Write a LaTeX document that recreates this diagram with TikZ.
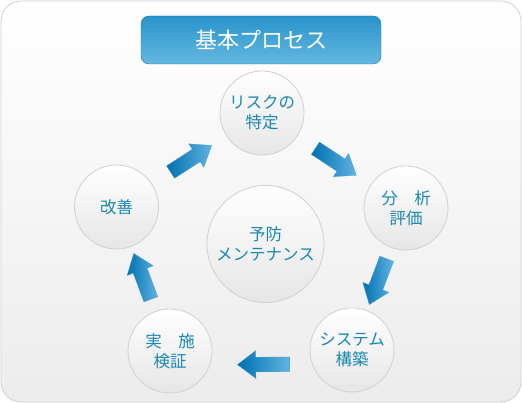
\documentclass[tikz,border=0pt]{standalone}
\usepackage{fontspec}
\newfontfamily\jpfont{Noto Sans CJK JP}
\usepackage{tikz}
\usetikzlibrary{shapes.arrows, positioning, calc}
\definecolor{procblue}{RGB}{26,136,176}
\definecolor{circedge}{RGB}{208,208,208}
\definecolor{circbottom}{RGB}{230,230,230}
\definecolor{framebottom}{RGB}{236,236,236}
\definecolor{titletop}{RGB}{40,148,204}
\definecolor{titlebottom}{RGB}{100,184,224}
\definecolor{arrowdark}{RGB}{0,112,176}
\definecolor{arrowlight}{RGB}{96,180,226}

\begin{document}
\begin{tikzpicture}[
    x=1pt, y=-1pt,
    stepnode/.style={circle, draw=circedge, line width=0.8pt, top color=white, bottom color=circbottom,
        minimum size=84pt, inner sep=0pt, align=center, text=procblue,
        font=\jpfont\fontsize{16.5}{20}\selectfont},
    hubnode/.style={stepnode, minimum size=117pt},
    flow/.style={single arrow, inner xsep=0pt, inner ysep=7.2pt, single arrow head extend=6.5pt,
        single arrow tip angle=74, minimum height=49pt, left color=arrowdark, right color=arrowlight,
        draw=arrowdark!70, line width=0.3pt, sloped, allow upside down, pos=0.47},
]
    \useasboundingbox (0,0) rectangle (522,403);
    \draw[draw=circedge, line width=0.8pt, rounded corners=20pt, top color=white, bottom color=framebottom]
        (1,1) rectangle (521,402);

    \node[rounded corners=8pt, draw=titletop!80!black, top color=titletop, bottom color=titlebottom,
        minimum width=240pt, minimum height=48pt, text=white,
        font=\jpfont\fontsize{22}{24}\selectfont] (title) at (261,40) {基本プロセス};

    \node[stepnode] (risk) at (262,113) {リスクの\\特定};
    \node[stepnode] (analysis) at (406,208) {分　析\\評価};
    \node[stepnode] (build) at (352,350) {システム\\構築};
    \node[stepnode] (verify) at (170,351) {実　施\\検証};
    \node[stepnode] (improve) at (116.5,207) {改善};
    \node[hubnode] (hub) at (265.5,244) {予防\\メンテナンス};

    % cycle arrows
    \path (improve) -- node[flow] {} (risk);
    \path (risk) -- node[flow] {} (analysis);
    \path (analysis) -- node[flow] {} (build);
    \path ([yshift=-14pt]build.center) -- node[flow, pos=0.46, minimum height=52pt] {} ([yshift=-14pt]verify.center);
    \path (verify) -- node[flow] {} (improve);
\end{tikzpicture}
\end{document}
